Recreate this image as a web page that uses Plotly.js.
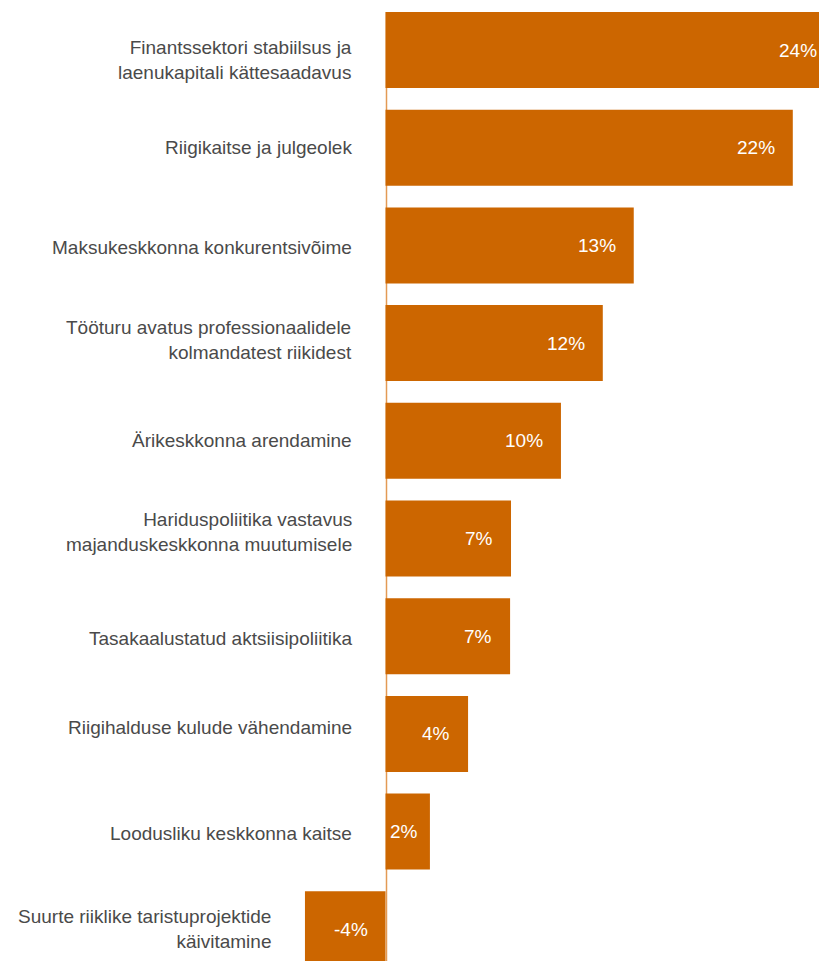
<!DOCTYPE html>
<html>
<head>
<meta charset="utf-8">
<script src="https://cdn.plot.ly/plotly-3.0.1.min.js"></script>
<style>html,body{margin:0;padding:0;background:#fff;}#chart{width:819px;height:961px;}</style>
</head>
<body>
<div id="chart"></div>
<script>
// Categories (top to bottom)
const categories = [
  "Finantssektori stabiilsus ja<br>laenukapitali kättesaadavus",
  "Riigikaitse ja julgeolek",
  "Maksukeskkonna konkurentsivõime",
  "Tööturu avatus professionaalidele<br>kolmandatest riikidest",
  "Ärikeskkonna arendamine",
  "Hariduspoliitika vastavus<br>majanduskeskkonna muutumisele",
  "Tasakaalustatud aktsiisipoliitika",
  "Riigihalduse kulude vähendamine",
  "Loodusliku keskkonna kaitse",
  "Suurte riiklike taristuprojektide<br>käivitamine"
];
// Estimated values (%)
const values = [24.4, 22.1, 13.47, 11.79, 9.52, 6.81, 6.76, 4.48, 2.41, -4.37];
// Printed value labels
const valueLabels = ["24%", "22%", "13%", "12%", "10%", "7%", "7%", "4%", "2%", "-4%"];

const W = 819, H = 961;
const pxPerUnit = 18.43;
const zeroPx = 385.5;
const xRange = [-zeroPx / pxPerUnit, (W - zeroPx) / pxPerUnit];
const catStep = 97.7, firstCenter = 50;
const yRange = [(H - firstCenter) / catStep, -firstCenter / catStep];

const barColor = "#cc6600";
const fontFamily = "'Liberation Sans', Arial, Helvetica, sans-serif";
const fontSize = 19;

const trace = {
  type: "bar",
  orientation: "h",
  y: categories,
  x: values,
  marker: { color: barColor, line: { width: 0 } },
  hoverinfo: "none",
  cliponaxis: true
};

// small vertical nudges of the category labels (pixels)
const labelShift = [-10, 0, -2, 3, 0, 7, -2, 6, -2, 0];
const annotations = [];
categories.forEach((c, i) => {
  const v = values[i];
  annotations.push({
    x: Math.min(v, 0), y: c, xref: "x", yref: "y",
    text: c, showarrow: false, xanchor: "right", yanchor: "middle",
    align: "right", xshift: -33, yshift: labelShift[i], borderpad: 0,
    font: { family: fontFamily, size: fontSize, color: "#4a4a4a" }
  });
  const barPx = Math.abs(v) * pxPerUnit;
  const textW = (valueLabels[i].length - 1) * 10.5 + 17;
  let pad = Math.min(17, barPx - textW - 6);
  let ax = Math.max(v, 0);
  if (ax > xRange[1]) { // bar runs off the right edge: pin label to the edge
    pad = Math.max(0, pad - (ax - xRange[1]) * pxPerUnit);
    ax = xRange[1] - 0.001;
  }
  annotations.push({
    x: ax, y: c, xref: "x", yref: "y",
    text: valueLabels[i], showarrow: false, xanchor: "right", yanchor: "middle",
    xshift: -pad, yshift: 0, borderpad: 0,
    font: { family: fontFamily, size: fontSize, color: "#ffffff" }
  });
});

const layout = {
  width: W, height: H,
  margin: { l: 0, r: 0, t: 0, b: 0, pad: 0 },
  paper_bgcolor: "#ffffff",
  plot_bgcolor: "#ffffff",
  showlegend: false,
  bargap: 0.222,
  xaxis: {
    range: xRange, showgrid: false, showticklabels: false, ticks: "",
    showline: false, zeroline: false, fixedrange: true
  },
  yaxis: {
    type: "category", range: yRange, showgrid: false, showticklabels: false,
    ticks: "", showline: false, zeroline: false, fixedrange: true
  },
  shapes: [{
    type: "line", xref: "x", yref: "y", xsizemode: "pixel", xanchor: 0,
    x0: 1, x1: 1, y0: -0.39, y1: yRange[0],
    line: { color: "#e39a55", width: 1.5 }, layer: "below"
  }],
  annotations: annotations
};

Plotly.newPlot("chart", [trace], layout, { displayModeBar: false, staticPlot: true });
</script>
</body>
</html>
